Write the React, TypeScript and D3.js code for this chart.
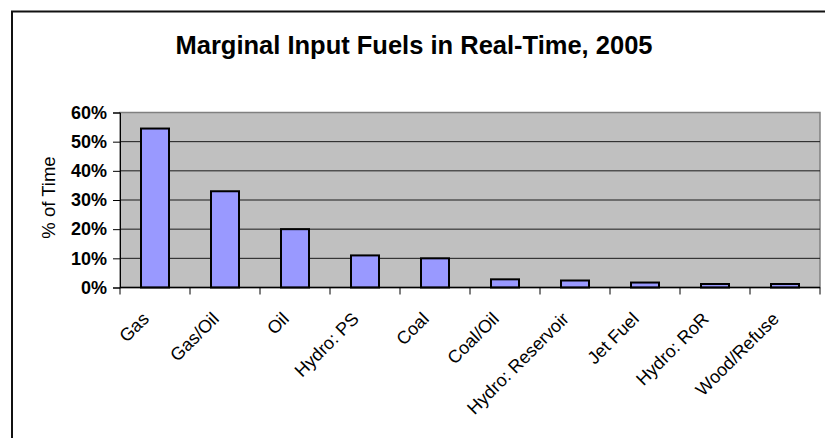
import React, { useEffect, useRef } from 'react';
import * as d3 from 'd3';

// Chart data
const categories: string[] = [
  "Gas", "Gas/Oil", "Oil", "Hydro: PS", "Coal",
  "Coal/Oil", "Hydro: Reservoir", "Jet Fuel", "Hydro: RoR", "Wood/Refuse"
];
const shares: number[] = [0.545, 0.33, 0.20, 0.11, 0.10, 0.028, 0.024, 0.017, 0.012, 0.012];
const yTicks: number[] = [0, 0.1, 0.2, 0.3, 0.4, 0.5, 0.6];
const title = "Marginal Input Fuels in Real-Time, 2005";
const yLabel = "% of Time";

const App: React.FC = () => {
  const svgRef = useRef<SVGSVGElement | null>(null);

  useEffect(() => {
    if (!svgRef.current) return;
    d3.select(svgRef.current).selectAll("*").remove();

    const width = 825;
    const height = 438;
    const plot = { left: 120, right: 820, top: 112.5, bottom: 287.5 };
    const font = "Arial, 'Liberation Sans', sans-serif";

    const svg = d3.select(svgRef.current)
      .attr("width", width)
      .attr("height", height)
      .attr("viewBox", `0 0 ${width} ${height}`);

    svg.append("rect")
      .attr("width", width)
      .attr("height", height)
      .attr("fill", "white");

    // Outer chart border (runs off the right and bottom edges)
    svg.append("rect")
      .attr("x", 12)
      .attr("y", 11.5)
      .attr("width", 900)
      .attr("height", 600)
      .attr("fill", "none")
      .attr("stroke", "#111")
      .attr("stroke-width", 2);

    // Title
    svg.append("text")
      .attr("x", 414)
      .attr("y", 53.5)
      .attr("text-anchor", "middle")
      .attr("font-family", font)
      .attr("font-size", "25.5px")
      .attr("font-weight", "bold")
      .text(title);

    const xScale = d3.scaleBand<string>()
      .domain(categories)
      .range([plot.left, plot.right])
      .paddingInner(0.6)
      .paddingOuter(0.3);

    const yScale = d3.scaleLinear()
      .domain([0, 0.6])
      .range([plot.bottom, plot.top]);

    // Plot area background
    svg.append("rect")
      .attr("x", plot.left)
      .attr("y", plot.top)
      .attr("width", plot.right - plot.left)
      .attr("height", plot.bottom - plot.top)
      .attr("fill", "#c0c0c0")
      .attr("stroke", "#808080")
      .attr("stroke-width", 1.5);

    // Gridlines
    svg.append("g")
      .selectAll("line")
      .data(yTicks.filter(t => t > 0 && t < 0.6))
      .enter()
      .append("line")
      .attr("x1", plot.left)
      .attr("x2", plot.right)
      .attr("y1", d => yScale(d))
      .attr("y2", d => yScale(d))
      .attr("stroke", "#1a1a1a")
      .attr("stroke-width", 1);

    // Bars
    svg.append("g")
      .selectAll("rect")
      .data(shares)
      .enter()
      .append("rect")
      .attr("x", (_, i) => xScale(categories[i]) as number)
      .attr("y", d => yScale(d))
      .attr("width", xScale.bandwidth())
      .attr("height", d => plot.bottom - yScale(d))
      .attr("fill", "#9999ff")
      .attr("stroke", "#000")
      .attr("stroke-width", 2);

    // Y axis
    const yAxis = d3.axisLeft(yScale)
      .tickValues(yTicks)
      .tickSize(7)
      .tickPadding(6)
      .tickFormat(d => `${Math.round((d as number) * 100)}%`);

    const yAxisG = svg.append("g")
      .attr("transform", `translate(${plot.left},0)`)
      .call(yAxis);
    yAxisG.select(".domain").attr("stroke", "#000").attr("stroke-width", 1);
    yAxisG.selectAll(".tick line").attr("stroke", "#000");
    yAxisG.selectAll("text")
      .attr("font-family", font)
      .attr("font-size", "18px")
      .attr("font-weight", "bold")
      .attr("fill", "#000");

    // X axis: ticks at category boundaries
    const boundaries = d3.range(categories.length + 1)
      .map(i => plot.left + i * (plot.right - plot.left) / categories.length);

    svg.append("line")
      .attr("x1", plot.left)
      .attr("x2", plot.right)
      .attr("y1", plot.bottom)
      .attr("y2", plot.bottom)
      .attr("stroke", "#000")
      .attr("stroke-width", 1.5);

    svg.append("g")
      .selectAll("line")
      .data(boundaries)
      .enter()
      .append("line")
      .attr("x1", d => d)
      .attr("x2", d => d)
      .attr("y1", plot.bottom)
      .attr("y2", plot.bottom + 7)
      .attr("stroke", "#000");

    // Rotated category labels
    svg.append("g")
      .selectAll("text")
      .data(categories)
      .enter()
      .append("text")
      .attr("transform", d => {
        const cx = (xScale(d) as number) + xScale.bandwidth() / 2 - 5;
        return `translate(${cx},${plot.bottom + 32.5}) rotate(-45)`;
      })
      .attr("text-anchor", "end")
      .attr("font-family", font)
      .attr("font-size", "18px")
      .text(d => d);

    // Y axis label
    svg.append("text")
      .attr("transform", `translate(55,197.5) rotate(-90)`)
      .attr("text-anchor", "middle")
      .attr("font-family", font)
      .attr("font-size", "18.5px")
      .text(yLabel);
  }, []);

  return (
    <svg ref={svgRef} style={{ position: "absolute", left: 0, top: 0, display: "block" }}></svg>
  );
};

export default App;
